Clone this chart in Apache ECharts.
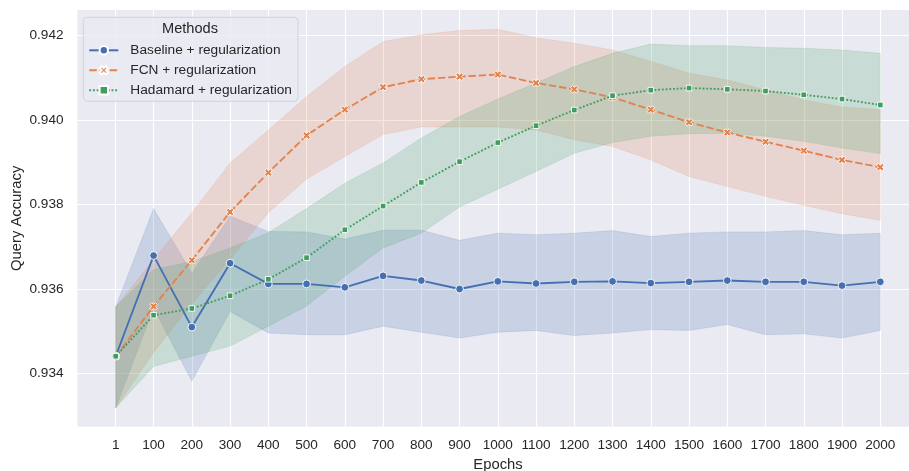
<!DOCTYPE html>
<html>
<head>
<meta charset="utf-8">
<script src="https://cdn.jsdelivr.net/npm/echarts@6/dist/echarts.min.js"></script>
<style>html,body{margin:0;padding:0;background:#fff;}#c{width:909px;height:471px;}</style>
</head>
<body>
<div id="c"></div>
<script>
const epochs = [1, 100, 200, 300, 400, 500, 600, 700, 800, 900, 1000, 1100, 1200, 1300, 1400, 1500, 1600, 1700, 1800, 1900, 2000];
const xTicks = [1, 100, 200, 300, 400, 500, 600, 700, 800, 900, 1000, 1100, 1200, 1300, 1400, 1500, 1600, 1700, 1800, 1900, 2000];
const yTicks = [0.934, 0.936, 0.938, 0.940, 0.942];
const methodNames = ['Baseline + regularization', 'FCN + regularization', 'Hadamard + regularization'];

const baselineMean  = [0.93441, 0.93679, 0.93510, 0.93661, 0.93612, 0.93612, 0.93604, 0.93631, 0.93620, 0.93600, 0.93618, 0.93613, 0.93617, 0.93618, 0.93614, 0.93617, 0.93620, 0.93617, 0.93617, 0.93608, 0.93617];
const baselineUpper = [0.93558, 0.93790, 0.93637, 0.93772, 0.93736, 0.93735, 0.93718, 0.93739, 0.93739, 0.93715, 0.93732, 0.93728, 0.93732, 0.93738, 0.93724, 0.93732, 0.93735, 0.93735, 0.93738, 0.93728, 0.93732];
const baselineLower = [0.93319, 0.93555, 0.93382, 0.93547, 0.93496, 0.93492, 0.93492, 0.93512, 0.93498, 0.93484, 0.93498, 0.93502, 0.93490, 0.93496, 0.93504, 0.93502, 0.93516, 0.93492, 0.93494, 0.93484, 0.93502];

const fcnMean  = [0.93441, 0.93559, 0.93668, 0.93782, 0.93875, 0.93963, 0.94024, 0.94077, 0.94096, 0.94102, 0.94107, 0.94087, 0.94072, 0.94053, 0.94024, 0.93994, 0.93970, 0.93948, 0.93927, 0.93905, 0.93888];
const fcnUpper = [0.93558, 0.93670, 0.93780, 0.93898, 0.93976, 0.94055, 0.94126, 0.94185, 0.94201, 0.94211, 0.94214, 0.94194, 0.94181, 0.94165, 0.94138, 0.94110, 0.94094, 0.94071, 0.94047, 0.94030, 0.94024];
const fcnLower = [0.93319, 0.93450, 0.93565, 0.93670, 0.93780, 0.93860, 0.93913, 0.93965, 0.93983, 0.93983, 0.93983, 0.93976, 0.93953, 0.93937, 0.93905, 0.93866, 0.93842, 0.93819, 0.93798, 0.93778, 0.93762];

const hadMean  = [0.93441, 0.93538, 0.93554, 0.93584, 0.93623, 0.93674, 0.93740, 0.93796, 0.93852, 0.93901, 0.93946, 0.93986, 0.94023, 0.94057, 0.94070, 0.94075, 0.94072, 0.94068, 0.94059, 0.94049, 0.94035];
const hadUpper = [0.93558, 0.93646, 0.93665, 0.93697, 0.93733, 0.93790, 0.93850, 0.93898, 0.93957, 0.94008, 0.94049, 0.94087, 0.94126, 0.94157, 0.94179, 0.94175, 0.94175, 0.94171, 0.94169, 0.94165, 0.94157];
const hadLower = [0.93319, 0.93417, 0.93441, 0.93465, 0.93512, 0.93560, 0.93630, 0.93697, 0.93732, 0.93794, 0.93836, 0.93878, 0.93921, 0.93946, 0.93961, 0.93967, 0.93968, 0.93961, 0.93949, 0.93933, 0.93920];

const FONT = '"Liberation Sans", Arial, Helvetica, sans-serif';
const TXT = '#262626';
const colors = ['#4470B2', '#E2834E', '#3F9E5E'];
const XPATH = 'path://M-1,-2L0,-1L1,-2L2,-1L1,0L2,1L1,2L0,1L-1,2L-2,1L-1,0L-2,-1Z';

const methods = [
  { name: methodNames[0], mean: baselineMean, up: baselineUpper, lo: baselineLower, color: colors[0], symbol: 'circle', size: 7.8, dash: 'solid' },
  { name: methodNames[1], mean: fcnMean, up: fcnUpper, lo: fcnLower, color: colors[1], symbol: XPATH, size: 7.6, dash: [7.4, 2.8] },
  { name: methodNames[2], mean: hadMean, up: hadUpper, lo: hadLower, color: colors[2], symbol: 'rect', size: 5.6, dash: [1.85, 1.85] }
];

const series = [];
methods.forEach((m, i) => {
  const rows = epochs.map((e, k) => [e, m.lo[k], m.up[k]]);
  series.push({
    name: m.name + ' band', type: 'custom', silent: true, z: 1,
    data: [0],
    renderItem: function (params, api) {
      const upperPts = rows.map(r => api.coord([r[0], r[2]]));
      const lowerPts = rows.slice().reverse().map(r => api.coord([r[0], r[1]]));
      return {
        type: 'polygon',
        shape: { points: upperPts.concat(lowerPts) },
        style: { fill: m.color, opacity: 0.2, stroke: m.color, lineWidth: 0.7 }
      };
    },
    clip: true
  });
});
methods.forEach((m) => {
  series.push({
    name: m.name, type: 'line', z: 3,
    data: epochs.map((e, k) => [e, m.mean[k]]),
    symbol: m.symbol, symbolSize: m.size, showSymbol: true,
    lineStyle: { color: m.color, width: 1.85, type: m.dash },
    itemStyle: { color: m.color, borderColor: '#ffffff', borderWidth: 0.9 }
  });
});

const chart = echarts.init(document.getElementById('c'), null, { renderer: 'canvas' });
chart.setOption({
  animation: false,
  backgroundColor: '#ffffff',
  grid: { left: 77.5, right: -9.5, top: 10, bottom: 44.3, show: true, backgroundColor: '#EAEAF2', borderWidth: 0, containLabel: false, outerBoundsMode: 'none' },
  xAxis: {
    type: 'value', min: -98.95, max: 2099.95,
    name: 'Epochs', nameLocation: 'middle', nameGap: 31,
    nameTextStyle: { fontFamily: FONT, fontSize: 14.8, color: TXT },
    axisLine: { show: false }, axisTick: { show: false, customValues: xTicks },
    axisLabel: { customValues: xTicks, fontFamily: FONT, fontSize: 13.6, color: TXT, margin: 12, formatter: v => String(v) },
    splitLine: { show: true, lineStyle: { color: '#ffffff', width: 1.1 } }
  },
  yAxis: {
    type: 'value', min: 0.932745, max: 0.942595,
    name: 'Query Accuracy', nameLocation: 'middle', nameGap: 53, nameMoveOverlap: false,
    nameTextStyle: { fontFamily: FONT, fontSize: 14.8, color: TXT },
    axisLine: { show: false }, axisTick: { show: false, customValues: yTicks },
    axisLabel: { customValues: yTicks, fontFamily: FONT, fontSize: 13.6, color: TXT, margin: 14, formatter: v => v.toFixed(3) },
    splitLine: { show: true, lineStyle: { color: '#ffffff', width: 1.1 } }
  },
  legend: {
    data: methodNames, orient: 'vertical', left: 83.3, top: 17.3,
    itemWidth: 29, itemHeight: 10.5, itemGap: 6.0,
    padding: [26, 6, 4, 5],
    backgroundColor: 'rgba(234,234,242,0.8)', borderColor: '#d3d3da', borderWidth: 1, borderRadius: 4,
    textStyle: { fontFamily: FONT, fontSize: 13.7, color: TXT, padding: [0, 0, 0, 7] }
  },
  graphic: [{
    type: 'text', z: 100, x: 190, y: 29,
    style: { text: 'Methods', fontFamily: FONT, fontSize: 14.6, fill: TXT, align: 'center', verticalAlign: 'middle' }
  }],
  series: series
});
</script>
</body>
</html>
